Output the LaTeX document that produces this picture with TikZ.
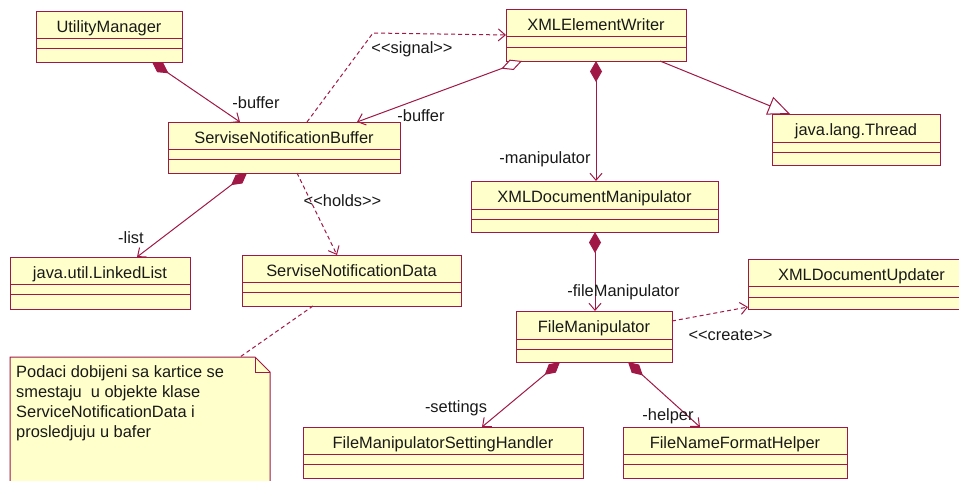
\documentclass[tikz,border=0pt]{standalone}
\usepackage{fontspec}
\setmainfont{Liberation Sans}
\usetikzlibrary{arrows.meta,calc}
\definecolor{umlline}{RGB}{160,25,70}
\definecolor{umlfill}{RGB}{255,255,204}
\definecolor{umltext}{RGB}{25,25,25}
\tikzset{
 clsbox/.style={draw=umlline, fill=umlfill, line width=1pt, inner sep=0pt, outer sep=0pt},
 clsline/.style={draw=umlline, line width=1pt},
 clstext/.style={text=umltext, font=\fontsize{16.4}{19}\selectfont, inner sep=0pt, anchor=base},
 lbl/.style={text=umltext, font=\fontsize{16.4}{19}\selectfont, inner sep=0pt, anchor=base},
 conn/.style={draw=umlline, line width=1pt},
 comp/.style={conn, {Diamond[length=20pt,width=11pt]}-{Straight Barb[length=7pt,width=12pt]}},
 compv/.style={conn, {Diamond[length=21pt,width=12pt]}-{Straight Barb[length=7pt,width=12pt]}},
 aggr/.style={conn, {Diamond[open,fill=white,length=22pt,width=11pt]}-{Straight Barb[length=7pt,width=12pt]}},
 dep/.style={conn, dash pattern=on 4pt off 3pt, -{Straight Barb[length=7pt,width=12pt]}},
 gen/.style={conn, -{Triangle[open,fill=white,length=22pt,width=19pt]}},
 notelink/.style={conn, dash pattern=on 4pt off 3pt},
 notebox/.style={draw=none, inner sep=0pt, outer sep=0pt, anchor=north west},
}
\newcommand\umlclass[8]{%
 \node[clsbox, anchor=north west, minimum width={(#4-#2)*1pt}, minimum height={(#5-#3)*1pt}] (#1) at (#2,#3) {};
 \draw[clsline] (#2,#6) -- (#4,#6) (#2,#7) -- (#4,#7);
 \node[clstext] (#1-t) at ({(#2+#4)/2},{#3+21}) {#8};
}
\begin{document}
\begin{tikzpicture}[x=1pt,y=-1pt]
\useasboundingbox (0,0) rectangle (959,480);
\fill[white] (0,0) rectangle (959,480);

\umlclass{um}{36}{11}{182}{62}{38}{48}{UtilityManager}
\umlclass{snb}{168}{122}{400}{173}{149}{159}{ServiseNotificationBuffer}
\umlclass{xew}{506}{9}{686}{61}{36}{47}{XMLElementWriter}
\umlclass{thr}{772}{114}{940}{165}{142}{152}{java.lang.Thread}
\umlclass{xdm}{471}{181}{718}{232}{209}{219}{XMLDocumentManipulator}
\umlclass{ll}{10}{257}{190}{309}{284}{294}{java.util.LinkedList}
\umlclass{snd}{242}{255}{461}{306}{282}{292}{ServiseNotificationData}
\umlclass{fmsh}{303}{427}{583}{478}{454}{464}{FileManipulatorSettingHandler}
\umlclass{fm}{516}{311}{672}{362}{339}{349}{FileManipulator}
\umlclass{xdu}{748}{259}{975}{309}{286}{297}{XMLDocumentUpdater}
\umlclass{fnfh}{623}{427}{847}{478}{454}{464}{FileNameFormatHelper}

% note
\node[notebox, minimum width=260pt, minimum height=130pt] (note) at (10,357) {};
\draw[clsbox] (note.north west) -- ([xshift=-15pt]note.north east) -- ([yshift=-15pt]note.north east) -- (note.south east) -- (note.south west) -- cycle;
\draw[clsline] ([xshift=-15pt]note.north east) |- ([yshift=-15pt]note.north east);
\node[lbl, anchor=base west] (note-l1) at (16,377) {Podaci dobijeni sa kartice se};
\node[lbl, anchor=base west] (note-l2) at (16,397.5) {smestaju~ u objekte klase};
\node[lbl, anchor=base west] (note-l3) at (16,417.5) {ServiceNotificationData i};
\node[lbl, anchor=base west] (note-l4) at (16,437.8) {prosledjuju u bafer};

% connectors
\coordinate (sigbend) at (373,33);
\draw[comp] ([xshift=116pt]um.south west) -- ([xshift=72pt]snb.north west);
\draw[aggr] ([xshift=16pt]xew.south west) -- ([xshift=189pt]snb.north west);
\draw[dep] ([xshift=139pt]snb.north west) -- (sigbend) -- (xew.west);
\draw[gen] ([xshift=154pt]xew.south west) -- ([xshift=18pt]thr.north west);
\draw[compv] ([xshift=90pt]xew.south west) -- ([xshift=125pt]xdm.north west);
\draw[compv] ([xshift=124pt]xdm.south west) -- ([xshift=79pt]fm.north west);
\draw[dep] ([yshift=-10pt]fm.north east) -- ([yshift=2pt]xdu.south west);
\draw[comp] ([xshift=44pt]fm.south west) -- ([xshift=179pt]fmsh.north west);
\draw[comp] ([xshift=112pt]fm.south west) -- ([xshift=77pt]fnfh.north west);
\draw[comp] ([xshift=79pt]snb.south west) -- ([xshift=127pt]ll.north west);
\draw[dep] ([xshift=129pt]snb.south west) -- ([xshift=95pt]snd.north west);
\draw[notelink] ([xshift=71pt]snd.south west) -- ([xshift=230pt]note.north west);

% labels
\node[lbl] (l-buf1) at (256,108) {-buffer};
\node[lbl] (l-buf2) at (421,121.5) {-buffer};
\node[lbl] (l-sig) at (412,53) {<{}<signal>{}>};
\node[lbl] (l-holds) at (342.5,206.5) {<{}<holds>{}>};
\node[lbl] (l-list) at (131,243) {-list};
\node[lbl] (l-man) at (545,163) {-manipulator};
\node[lbl] (l-fman) at (623.5,296) {-fileManipulator};
\node[lbl] (l-create) at (730.5,340) {<{}<create>{}>};
\node[lbl] (l-set) at (456,412) {-settings};
\node[lbl] (l-help) at (668,420) {-helper};
\end{tikzpicture}
\end{document}
